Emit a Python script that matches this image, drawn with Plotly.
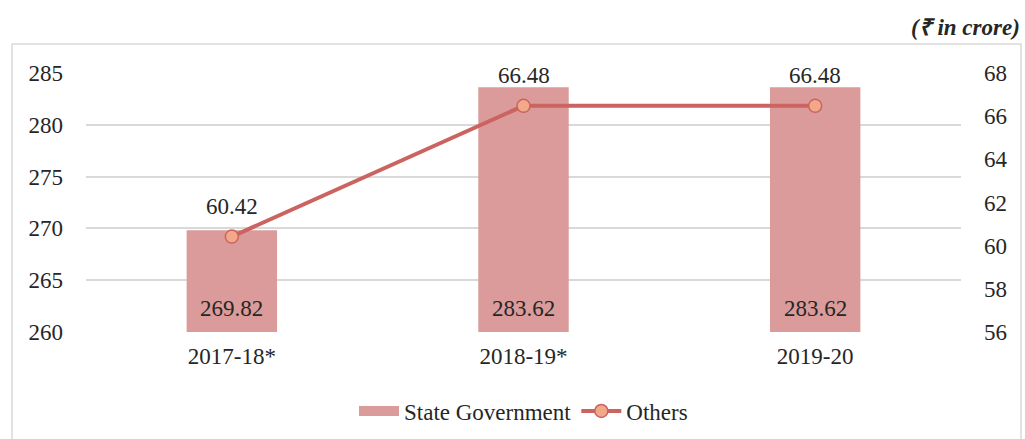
import plotly.graph_objects as go

categories = ["2017-18*", "2018-19*", "2019-20"]
state_government = [269.82, 283.62, 283.62]
others = [60.42, 66.48, 66.48]
left_ticks = [260, 265, 270, 275, 280, 285]
right_ticks = [56, 58, 60, 62, 64, 66, 68]

FONT = "Liberation Serif, Times New Roman, serif"
TXT = "#262626"
FS = 23
BAR_C = "#DA9B9A"
LINE_C = "#CB6460"
W, H = 1025, 439
L, R, T, B = 86, 64, 73, 107
pw, ph = W - L - R, H - T - B

def px_x(x):
    return (x - L) / pw

def px_y(y):
    return (H - B - y) / ph

fig = go.Figure()
fig.add_trace(go.Bar(
    x=categories, y=state_government, name="State Government",
    marker=dict(color=BAR_C, line=dict(width=0)),
    width=0.31, showlegend=False,
))
# legend entry for the bars (wide rectangle swatch)
fig.add_trace(go.Scatter(
    x=[None], y=[None], name="State Government", mode="lines",
    line=dict(color=BAR_C, width=12),
))
fig.add_trace(go.Scatter(
    x=categories, y=others, name="Others", yaxis="y2",
    mode="lines+markers",
    line=dict(color=LINE_C, width=4),
    marker=dict(size=13, color="#F2A98A", line=dict(color=LINE_C, width=1.5)),
    cliponaxis=False,
))

annotations = []
for c, v in zip(categories, state_government):
    annotations.append(dict(x=c, y=left_ticks[0], xref="x", yref="y", text=f"{v:.2f}",
                            yanchor="bottom", yshift=9, showarrow=False,
                            font=dict(family=FONT, size=FS, color=TXT)))
for c, v in zip(categories, others):
    annotations.append(dict(x=c, y=v, xref="x", yref="y2", text=f"{v:.2f}",
                            yanchor="bottom", yshift=16, showarrow=False,
                            font=dict(family=FONT, size=FS, color=TXT)))
annotations.append(dict(text="<b><i>(₹ in crore)</i></b>", xref="paper", yref="paper",
                        x=px_x(1022), y=px_y(28), xanchor="right", yanchor="middle",
                        showarrow=False, font=dict(family=FONT, size=FS, color=TXT)))

fig.update_layout(
    width=W, height=H,
    margin=dict(l=L, r=R, t=T, b=B, autoexpand=False),
    paper_bgcolor="white", plot_bgcolor="white",
    font=dict(family=FONT, size=FS, color=TXT),
    bargap=0.69,
    xaxis=dict(showgrid=False, showline=False, ticks="", ticklabelstandoff=8,
               tickfont=dict(family=FONT, size=FS, color=TXT)),
    yaxis=dict(range=[left_ticks[0], left_ticks[-1]], tickvals=left_ticks, showgrid=True,
               gridcolor="#D9D9D9", gridwidth=1.5, zeroline=False, showline=False,
               ticklabelstandoff=22, tickfont=dict(family=FONT, size=FS, color=TXT)),
    yaxis2=dict(range=[right_ticks[0], right_ticks[-1]], tickvals=right_ticks,
                overlaying="y", side="right",
                showgrid=False, zeroline=False, showline=False,
                ticklabelstandoff=22, tickfont=dict(family=FONT, size=FS, color=TXT)),
    legend=dict(orientation="h", x=0.5, xanchor="center",
                yref="container", y=1 - 411 / H, yanchor="middle",
                font=dict(family=FONT, size=FS, color=TXT), itemwidth=40,
                traceorder="normal"),
    showlegend=True,
    shapes=[dict(type="rect", xref="paper", yref="paper",
                 x0=px_x(12), x1=px_x(1021), y0=px_y(470), y1=px_y(44),
                 line=dict(color="#D9D9D9", width=1.5), fillcolor="rgba(0,0,0,0)",
                 layer="below")],
    annotations=annotations,
)

fig.write_html("out.html", config={"displayModeBar": False},
               post_script="document.body.style.margin='0';")
